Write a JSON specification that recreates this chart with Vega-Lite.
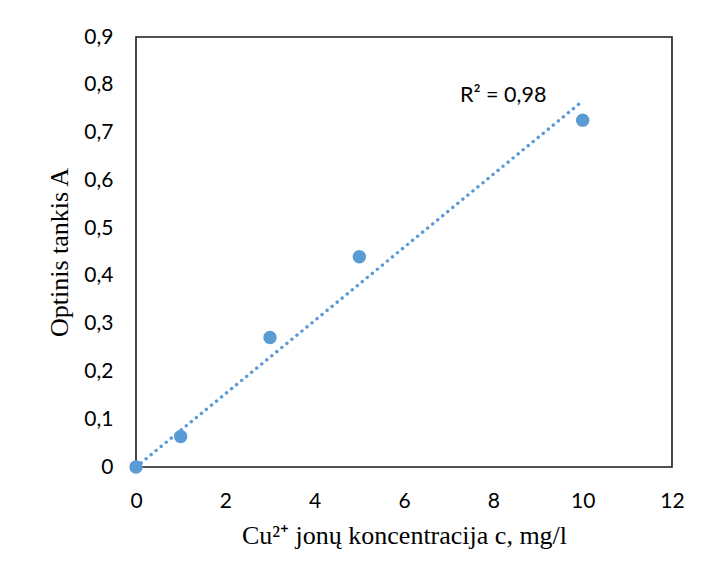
{
  "$schema": "https://vega.github.io/schema/vega-lite/v6.json",
  "width": 536,
  "height": 430,
  "autosize": {"type": "none"},
  "padding": {"left": 136, "top": 37, "right": 30, "bottom": 111},
  "background": "white",
  "config": {
    "view": {"stroke": "#1a1a1a", "strokeWidth": 1.6},
    "axis": {"grid": false, "domain": false, "ticks": false, "tickSize": 0, "labelFlush": false, "labelOverlap": false, "labelFont": "Lato", "labelFontSize": 21, "labelColor": "#000", "titleFont": "Liberation Serif", "titleFontSize": 26, "titleFontWeight": "normal", "titleColor": "#000"}
  },
  "datasets": {
    "points": [
      {"c": 0, "A": 0},
      {"c": 1, "A": 0.064},
      {"c": 3, "A": 0.271},
      {"c": 5, "A": 0.44},
      {"c": 10, "A": 0.726}
    ],
    "trend": [
      {"c": 0, "A": 0},
      {"c": 10, "A": 0.766}
    ],
    "note": [
      {"c": 8.22, "A": 0.764, "label": "R² = 0,98"}
    ]
  },
  "layer": [
    {
      "data": {"name": "trend"},
      "mark": {"type": "line", "color": "#5B9BD5", "strokeWidth": 3.4, "strokeCap": "round", "strokeDash": [0.1, 6.4], "clip": false},
      "encoding": {
        "x": {"field": "c", "type": "quantitative", "scale": {"domain": [0, 12]}, "axis": {"values": [0,2,4,6,8,10,12], "labelBaseline": "alphabetic", "labelPadding": 40, "title": "Cu²⁺ jonų koncentracija c, mg/l", "titleBaseline": "alphabetic", "titleY": 76}},
        "y": {"field": "A", "type": "quantitative", "scale": {"domain": [0, 0.9]}, "axis": {"values": [0,0.1,0.2,0.3,0.4,0.5,0.6,0.7,0.8,0.9], "labelPadding": 23, "labelExpr": "replace(format(datum.value, '.1~f'), '.', ',')", "title": "Optinis tankis A", "titleX": -69, "titleBaseline": "alphabetic"}}
      }
    },
    {
      "data": {"name": "points"},
      "mark": {"type": "point", "filled": true, "opacity": 1, "color": "#5B9BD5", "size": 180, "clip": false},
      "encoding": {
        "x": {"field": "c", "type": "quantitative"},
        "y": {"field": "A", "type": "quantitative"}
      }
    },
    {
      "data": {"name": "note"},
      "mark": {"type": "text", "font": "Lato", "fontSize": 21.5, "color": "#000", "align": "center", "baseline": "alphabetic"},
      "encoding": {
        "x": {"field": "c", "type": "quantitative"},
        "y": {"field": "A", "type": "quantitative"},
        "text": {"field": "label"}
      }
    }
  ]
}
